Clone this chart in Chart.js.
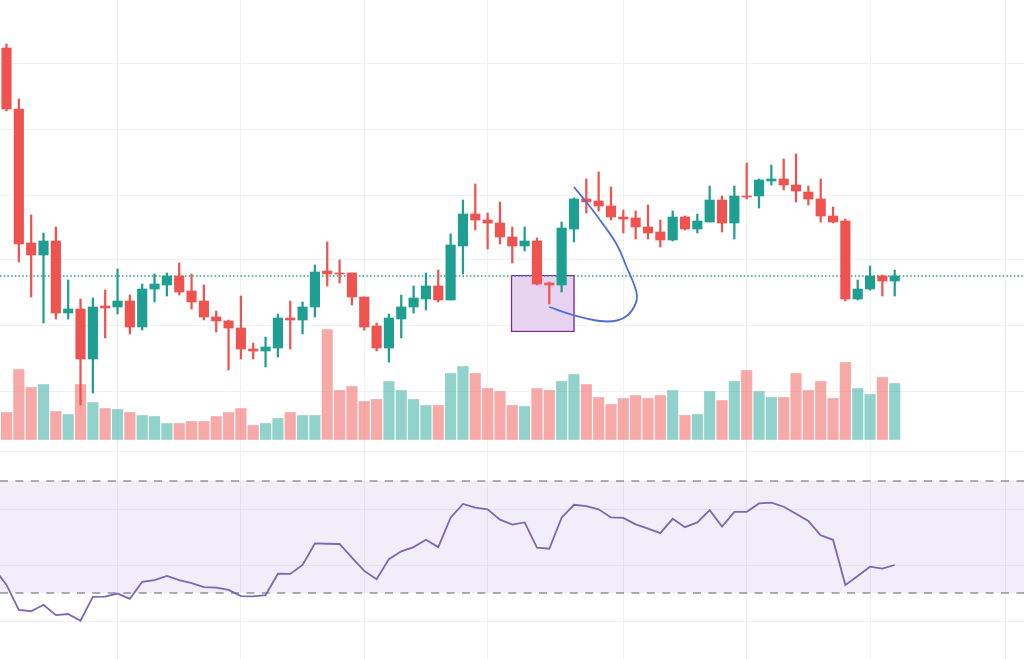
<!DOCTYPE html>
<html>
<head>
<meta charset="utf-8">
<title>Candles</title>
<script src="https://cdn.jsdelivr.net/npm/chart.js@4"></script>
<style>
html,body{margin:0;padding:0;background:#fff}
canvas{display:block}
</style>
</head>
<body>
<canvas id="c" width="1024" height="659"></canvas>
<script>
const opens=[652,591,457,445,459,387,391,341,394,393,399,373,411,415,424,409,399,383,379,372,351,349,352,382,380,393,429,427,427,403,374,352,381,393,401,414,400,454,486,480,477,463,454,459,417,415,471,501,499,494,483,482,473,468,460,483,471,478,500,477,504,504,519,521,515,508,501,484,479,401,411,424,419];
const highs=[656,601,485,467,473,420,401,402,410,431,405,416,426,427,437,426,415,389,380,404,357,363,386,399,398,435,458,440,427,403,377,386,405,414,427,430,466,500,516,487,498,473,473,462,418,478,502,521,528,513,490,489,495,480,489,484,486,514,504,514,537,521,535,541,546,514,521,493,481,420,434,425,430];
const lows=[589,438,403,377,381,381,295,307,362,386,366,370,398,404,405,391,380,368,330,341,341,333,343,351,366,383,414,417,395,370,349,338,362,387,390,398,400,426,470,451,456,437,449,415,396,408,458,487,489,480,467,461,461,453,459,470,467,478,468,461,501,492,515,510,498,495,478,477,399,400,410,404,404];
const closes=[591,456,445,459,387,391,341,393,392,399,373,411,416,424,408,398,383,379,372,351,349,353,382,380,393,428,426,426,403,373,352,382,393,402,414,400,455,486,480,477,463,454,459,416,415,472,501,498,494,483,481,473,467,460,483,471,479,500,477,504,503,520,521,515,509,501,484,478,401,411,424,419,424];
const volumes=[27,70,52,55,28,25,55,37,31,30,27,24,23,16,16,18,18,23,27,31,14,16,21,27,24,24,110,49,53,38,40,58,49,40,34,34,66,73,66,51,48,34,33,51,49,58,65,55,42,35,41,44,41,44,49,24,25,48,39,58,69,48,42,42,66,49,58,41,77,51,45,62,56];
// first rsi value sits one bar left of the first candle, off screen
const rsiValues=[38.8,32.9,24.0,23.5,25.8,22.1,22.5,20.1,28.6,28.7,29.8,27.9,34.0,34.6,36.1,34.6,33.5,32.1,31.9,31.1,28.9,28.8,29.2,36.9,36.8,40.0,47.7,47.6,47.5,42.6,37.9,34.9,42.1,44.9,46.4,49.0,46.4,56.9,61.8,60.5,59.9,56.2,54.4,55.2,46.2,45.8,56.9,61.5,61.0,59.9,57.0,56.8,54.5,53.0,51.4,56.5,53.5,55.2,59.6,53.7,59.0,59.0,62.0,62.3,60.8,58.3,55.7,50.6,49.0,32.9,36.1,39.4,38.7,40.0];
const curveX=[44.0,45.92,48.11,49.49,50.38,50.95,51.11,50.86,50.3,49.49,48.11,47.06,46.0];
const curveY=[393,385,379,379.5,385,395,404,416,432,455,480,497,513];
const boxX=43.47,boxTop=425,boxBottom=368;
const xGridTicks=[9,19,29,39,50,60,70,81];
const priceGridTicks=[637,571,505,441,375,309,249];
const rsiGridTicks=[60,40,20];
const rsiUpper=70,rsiLower=30;

const xMin=-0.527,xMax=82.48;
const RED='#ef5350',TEAL='#1f9f92';
const RED_V='rgba(239,83,80,.5)',TEAL_V='rgba(38,166,154,.5)';
const GRID='#f1f2f5';
const isUp=i=>closes[i]>=opens[i];
const candleCol=opens.map((o,i)=>isUp(i)?TEAL:RED);
const volCol=opens.map((o,i)=>isUp(i)?TEAL_V:RED_V);
const fixedTicks=arr=>s=>{s.ticks=arr.map(v=>({value:v}))};
const hiddenAxis=(min,max,ticks)=>({
  min,max,position:'left',
  afterBuildTicks:fixedTicks(ticks),
  afterFit:s=>{s.width=0},
  ticks:{display:false},
  border:{display:false},
  grid:{color:GRID,lineWidth:1,drawTicks:false,display:ticks.length>0}
});
const flat=v=>[{x:xMin,y:v},{x:xMax,y:v}];

new Chart(document.getElementById('c'),{
  data:{datasets:[
    // rsi band with dashed limits
    {type:'line',yAxisID:'yRsi',order:20,data:flat(rsiUpper),borderColor:'#5d6069',borderWidth:1.2,borderDash:[8,7.4],pointRadius:0,fill:'+1',backgroundColor:'rgba(126,87,194,.105)'},
    {type:'line',yAxisID:'yRsi',order:19,data:flat(rsiLower),borderColor:'#5d6069',borderWidth:1.2,borderDash:[8,7.4],pointRadius:0},
    {type:'line',yAxisID:'yRsi',order:18,data:rsiValues.map((v,i)=>({x:i-1,y:v})),borderColor:'#7e65b5',borderWidth:1.8,pointRadius:0,tension:0},
    // volume
    {type:'bar',yAxisID:'yVol',order:17,grouped:false,barThickness:10.5,data:volumes.map((v,i)=>({x:i,y:v})),backgroundColor:volCol},
    // highlighted box
    {type:'bar',yAxisID:'y',order:16,grouped:false,barThickness:63.5,data:[{x:boxX,y:[boxBottom,boxTop]}],backgroundColor:'#e7d3ef',borderColor:'#7b2a9e',borderWidth:1.5,borderSkipped:false},
    // last price
    {type:'line',yAxisID:'y',order:15,data:flat(closes[closes.length-1]),borderColor:'#2a9d90',borderWidth:1.5,borderDash:[1.5,2.2],pointRadius:0},
    // candles
    {type:'bar',yAxisID:'y',order:14,grouped:false,barThickness:1.6,data:highs.map((h,i)=>({x:i,y:[lows[i],h]})),backgroundColor:candleCol},
    {type:'bar',yAxisID:'y',order:13,grouped:false,barThickness:9.5,data:opens.map((o,i)=>({x:i,y:[Math.min(o,closes[i]),Math.max(o,closes[i])]})),backgroundColor:candleCol},
    // drawn curve
    {type:'line',yAxisID:'y',order:12,data:curveX.map((x,i)=>({x,y:curveY[i]})),borderColor:'#4f6fd6',borderWidth:1.8,pointRadius:0,tension:.4}
  ]},
  options:{
    responsive:false,animation:false,
    layout:{padding:0,autoPadding:false},
    plugins:{legend:{display:false},tooltip:{enabled:false}},
    scales:{
      x:{type:'linear',offset:false,min:xMin,max:xMax,afterBuildTicks:fixedTicks(xGridTicks),afterFit:s=>{s.height=0},ticks:{display:false},border:{display:false},grid:{color:GRID,drawTicks:false,offset:false}},
      y:hiddenAxis(41,700,priceGridTicks),
      yVol:hiddenAxis(-219.5,439.5,[]),
      yRsi:hiddenAxis(6.43,241.79,rsiGridTicks)
    }
  }
});
</script>
</body>
</html>
